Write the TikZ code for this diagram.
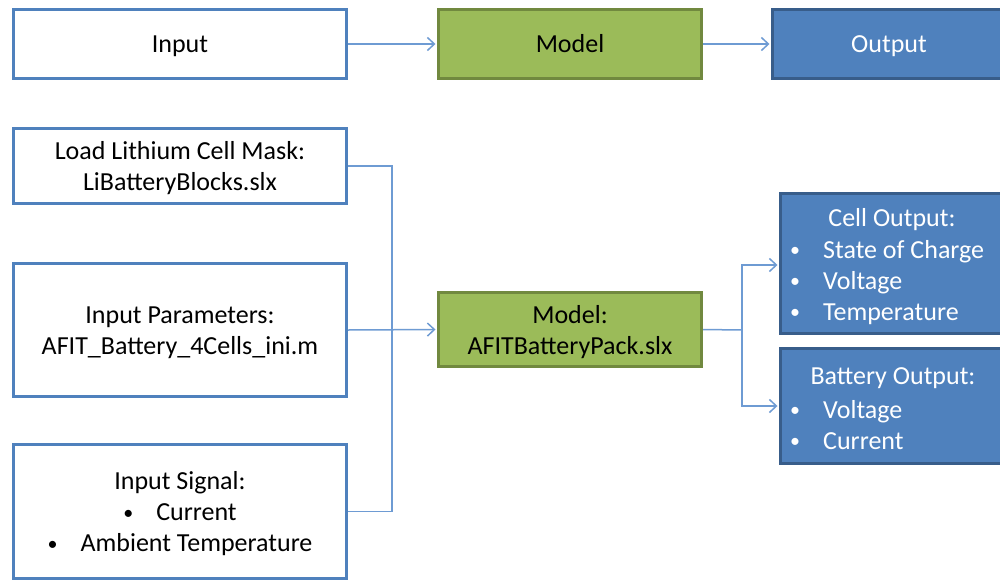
\documentclass[tikz,border=0pt]{standalone}
\usepackage{fontspec}
\setmainfont{Carlito}
\usetikzlibrary{arrows.meta}
\definecolor{ofblue}{HTML}{4F81BD}
\definecolor{ofbluedark}{HTML}{385D8A}
\definecolor{ofgreen}{HTML}{9BBB59}
\definecolor{ofgreendark}{HTML}{71893F}
\definecolor{wirecol}{HTML}{6E9BD3}
% small list bullet followed by a tab-like gap
\newcommand{\itembul}{\makebox[10pt][c]{\raisebox{1.5pt}{\fontsize{20}{20}\selectfont\textbullet}}\hspace{23pt}}
\begin{document}
\begin{tikzpicture}[x=1pt,y=-1pt,
  every node/.style={font=\fontsize{26}{31}\selectfont, inner sep=0pt},
  inbox/.style={draw=ofblue, line width=3pt, fill=white, minimum width=333pt, align=center},
  greenbox/.style={draw=ofgreendark, line width=3pt, fill=ofgreen, minimum width=263pt, align=center},
  bluebox/.style={draw=ofbluedark, line width=3pt, fill=ofblue, minimum width=240pt, text=white},
  whitetext/.style={text=white, align=left},
  txtdrop/.style={yshift=-2.5pt},
  oneline/.style={text height=18pt, text depth=6pt, yshift=-2pt},
  wire/.style={draw=wirecol, line width=1.5pt},
  flow/.style={wire, -{Straight Barb[length=7pt,width=13pt]}, shorten >=1.5pt}]
\useasboundingbox (0,0) rectangle (1000,581);
\clip (0,0) rectangle (1000,581);

% top row: generic flow
\node[inbox, minimum height=69pt] (in) at (180,44) {};
\node[greenbox, minimum height=69pt] (mod) at (570,44) {};
\node[bluebox, minimum height=69pt] (out) at (892.5,44) {};
\node[oneline] (inlbl) at (in) {Input};
\node[oneline] (modlbl) at (mod) {Model};
\node[oneline, text=white] (outlbl) at (889,44) {Output};

% inputs
\node[inbox, minimum height=75pt] (mask) at (180,166) {};
\node[txtdrop, align=center] (masklbl) at (mask)
  {Load Lithium Cell Mask:\\LiBatteryBlocks.slx};
\node[inbox, minimum height=133pt] (par) at (180,330) {};
\node[txtdrop, align=center] (parlbl) at (par)
  {Input Parameters:\\AFIT\_Battery\_4Cells\_ini.m};
\node[inbox, minimum height=134pt] (sig) at (180,511.5) {};
\node[txtdrop, align=center] (siglbl) at (sig)
  {Input Signal:\\\itembul Current\\\itembul Ambient Temperature};

% model
\node[greenbox, minimum height=74pt] (pack) at (570,329.5) {};
\node[txtdrop, align=center] (packlbl) at (pack)
  {Model:\\AFITBatteryPack.slx};

% outputs
\node[bluebox, minimum height=140pt] (cell) at (900.5,263.5) {};
\node[whitetext, txtdrop] (celltitle) at (892,217) {Cell Output:};
\node[whitetext, txtdrop, anchor=west] (celllist) at (790,280)
  {\itembul State of Charge\\\itembul Voltage\\\itembul Temperature};

\node[bluebox, minimum height=115pt] (batt) at (900.5,406) {};
\node[whitetext, txtdrop] (batttitle) at (893,376) {Battery Output:};
\node[whitetext, txtdrop, anchor=west] (battlist) at (790,422.5)
  {\itembul Voltage\\\itembul Current};

% connectors
\draw[flow] (in.east) -- (mod.west);
\draw[flow] (mod.east) -- (out.west);

\coordinate (busT) at (392,166);
\coordinate (busB) at (392,511.5);
\draw[wire] (mask.east) -- (busT) -- (busB) -- (sig.east);
\draw[flow] (par.east) -- (pack.west);

\coordinate (splitC) at (742,330);
\coordinate (splitT) at (742,265);
\coordinate (splitB) at (742,406);
\draw[wire] (pack.east) -- (splitC);
\draw[flow] (splitC) -- (splitT) -- (cell.west |- splitT);
\draw[flow] (splitC) -- (splitB) -- (batt.west |- splitB);
\end{tikzpicture}
\end{document}
